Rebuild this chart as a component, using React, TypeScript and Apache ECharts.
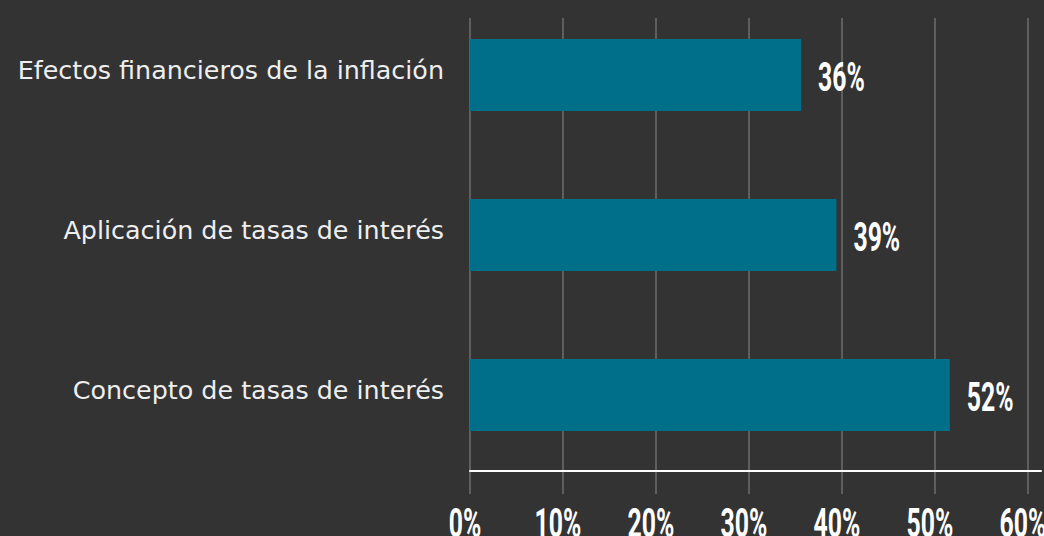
import React, { useEffect, useRef } from "react";
import * as echarts from "echarts";

const categories = [
  "Efectos financieros de la inflación",
  "Aplicación de tasas de interés",
  "Concepto de tasas de interés",
];
const values = [35.6, 39.4, 51.6];
const tickValues = [0, 10, 20, 30, 40, 50, 60];
const axisMin = 0;
const axisMax = 61.4;
const tickStep = 10;

const numFont = "Roboto, 'DejaVu Sans', sans-serif";

export default function App() {
  const ref = useRef<HTMLDivElement>(null);
  useEffect(() => {
    if (!ref.current) return;
    const chart = echarts.init(ref.current, null, { renderer: "svg" });
    const gridColor = "#5e5e5e";
    chart.setOption({
      animation: false,
      backgroundColor: "#333333",
      grid: [
        { left: 470, right: 3, top: -5, height: 480, outerBoundsMode: "none" },
        { left: 470, right: 3, top: 18, bottom: 42, outerBoundsMode: "none" },
      ],
      xAxis: [
        { gridIndex: 0, type: "value", min: axisMin, max: axisMax, show: false },
        {
          gridIndex: 1,
          type: "value",
          min: axisMin,
          max: axisMax,
          interval: tickStep,
          position: "bottom",
          offset: -23,
          axisLine: { show: true, lineStyle: { color: "#ffffff", width: 2 } },
          axisTick: { show: false },
          splitLine: {
            show: true,
            lineStyle: {
              color: [gridColor, gridColor, gridColor, gridColor, gridColor, gridColor, gridColor, "transparent"],
              width: 2,
            },
          },
          axisLabel: { show: false },
        },
      ],
      yAxis: [
        {
          gridIndex: 0,
          type: "category",
          data: categories,
          inverse: true,
          axisLine: { show: false },
          axisTick: { show: false },
          splitLine: { show: false },
          axisLabel: {
            color: "#eeeeee",
            fontFamily: "'DejaVu Sans', Verdana, sans-serif",
            fontSize: 25.4,
            margin: 26,
            verticalAlign: "bottom",
            lineHeight: 11,
          },
        },
        { gridIndex: 1, type: "value", min: 0, max: 1, show: false },
      ],
      series: [
        {
          type: "bar",
          xAxisIndex: 0,
          yAxisIndex: 0,
          data: values,
          barWidth: 72,
          itemStyle: { color: "#006f89" },
        },
        {
          type: "custom",
          xAxisIndex: 0,
          yAxisIndex: 0,
          data: values.map((v, i) => [v, i]),
          renderItem: (params: any, api: any) => {
            const v = api.value(0);
            const c = api.coord([v, api.value(1)]);
            return {
              type: "text",
              x: c[0] + 17,
              y: c[1] + 2,
              scaleX: 0.62,
              style: {
                text: `${Math.round(v)}%`,
                fill: "#ffffff",
                fontFamily: numFont,
                fontWeight: "bold",
                fontSize: 40,
                align: "left",
                verticalAlign: "middle",
              },
            };
          },
        },
        {
          type: "custom",
          xAxisIndex: 1,
          yAxisIndex: 1,
          clip: false,
          data: tickValues.map((t) => [t, 0]),
          renderItem: (params: any, api: any) => {
            const t = api.value(0);
            const c = api.coord([t, 0]);
            return {
              type: "text",
              x: c[0] - 5,
              y: c[1] + 29,
              scaleX: 0.62,
              style: {
                text: `${t}%`,
                fill: "#ffffff",
                fontFamily: numFont,
                fontWeight: "bold",
                fontSize: 40,
                align: "center",
                verticalAlign: "middle",
              },
            };
          },
        },
      ],
    });
    return () => chart.dispose();
  }, []);
  return (
    <div
      ref={ref}
      style={{ position: "fixed", left: 0, top: 0, width: 1044, height: 536 }}
    />
  );
}
